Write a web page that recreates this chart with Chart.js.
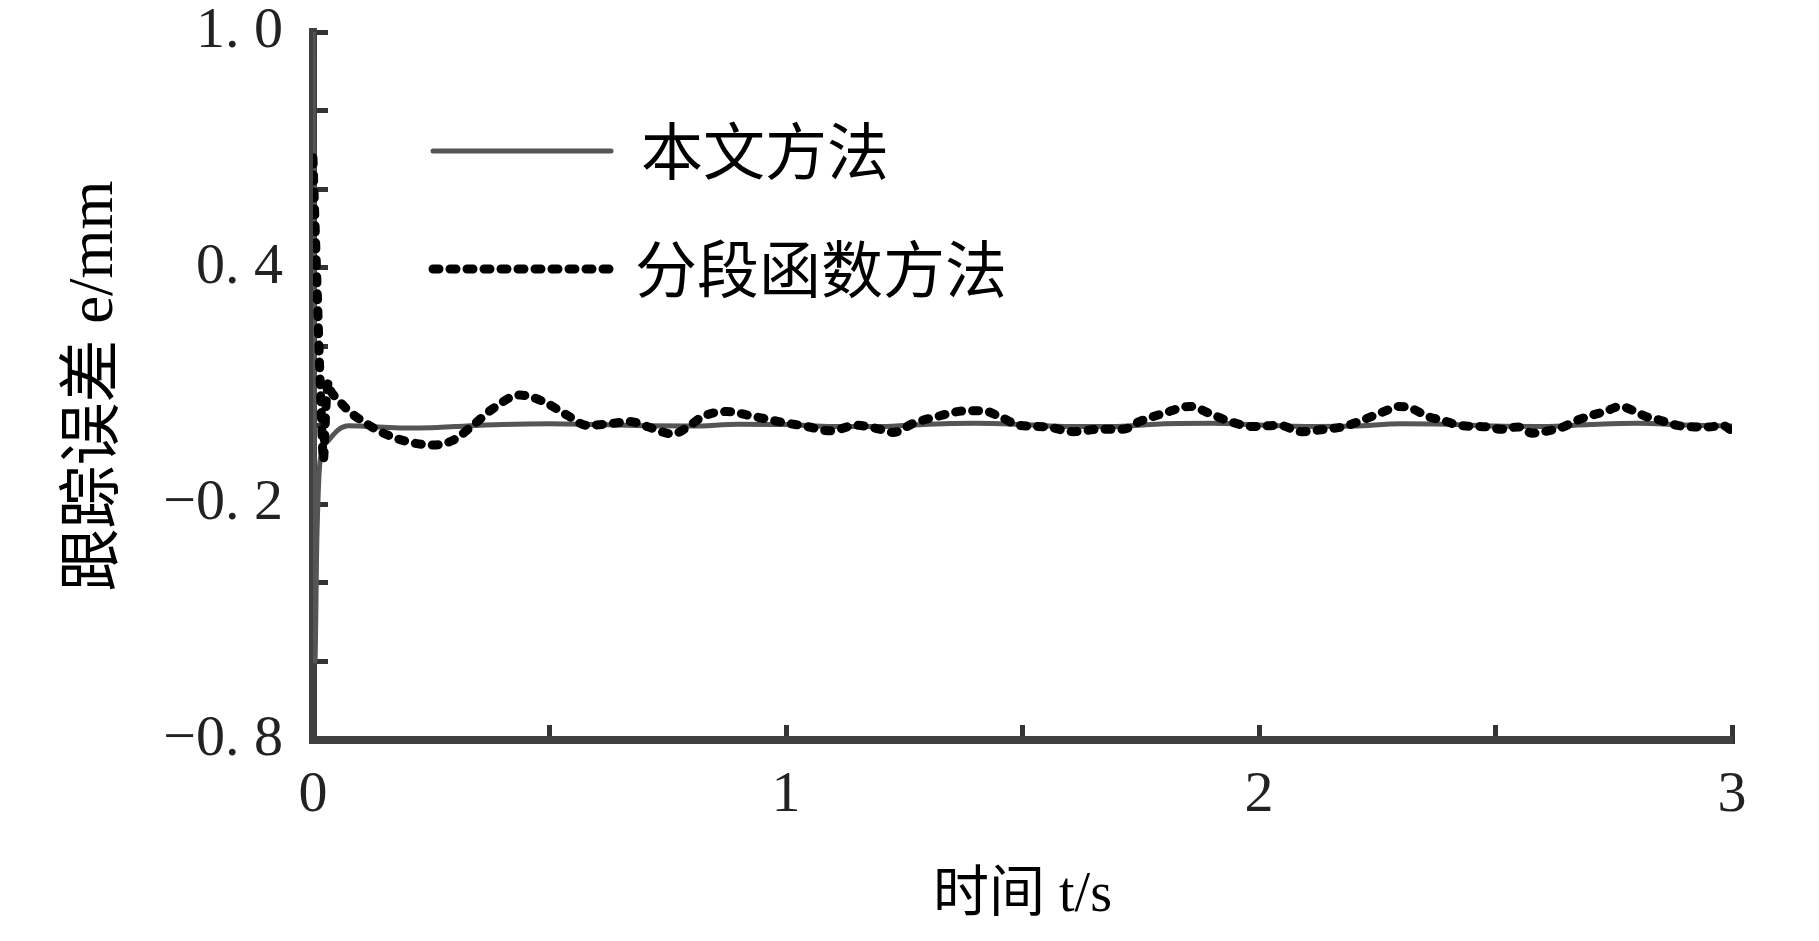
<!DOCTYPE html>
<html><head><meta charset="utf-8">
<script src="https://cdn.jsdelivr.net/npm/chart.js@4.4.1/dist/chart.umd.min.js"></script>
<style>html,body{margin:0;padding:0;background:#fff;}canvas{display:block;}</style>
</head><body>
<canvas id="c" width="1819" height="941"></canvas>
<script>
// ---- data ----
const seriesNames = ['本文方法', '分段函数方法'];

const proposedTime = [0, 0.004, 0.008, 0.013, 0.018, 0.024, 0.03, 0.04, 0.05, 0.06, 0.075, 0.1, 0.15, 0.2, 0.25, 0.3,
  0.4, 0.5, 0.6, 0.7, 0.8, 0.9, 1.0, 1.1, 1.2, 1.3, 1.4, 1.5, 1.6, 1.7, 1.8, 1.9, 2.0, 2.1, 2.2, 2.3, 2.4, 2.5, 2.6, 2.7, 2.8, 2.9, 3.0];
const proposedError = [1.0, -0.6, -0.3, -0.12, -0.07, -0.05, -0.042, -0.028, -0.015, -0.006, -0.001, -0.002, -0.005, -0.007, -0.006, -0.003,
  0.002, 0.004, 0.002, -0.001, -0.002, 0.003, 0.002, -0.003, -0.003, 0.003, 0.005, 0.002, -0.003, -0.003, 0.004, 0.005, 0.001, -0.003, -0.002, 0.004, 0.003, -0.002, -0.003, 0.002, 0.005, 0.001, -0.002];

const piecewiseTime = [0, 0.002, 0.006, 0.01, 0.014, 0.017, 0.02, 0.022, 0.025, 0.028, 0.033, 0.037, 0.045, 0.057, 0.07, 0.085,
  0.106, 0.142, 0.198, 0.254, 0.296, 0.338, 0.381, 0.437, 0.486, 0.537, 0.579, 0.634, 0.67, 0.706, 0.761, 0.797, 0.825, 0.875, 0.93, 0.987,
  1.044, 1.093, 1.149, 1.199, 1.227, 1.269, 1.318, 1.382, 1.417, 1.452, 1.494, 1.551, 1.607, 1.663, 1.713, 1.748, 1.797, 1.854, 1.896, 1.938, 1.987,
  2.044, 2.088, 2.139, 2.176, 2.212, 2.264, 2.296, 2.322, 2.358, 2.388, 2.424, 2.483, 2.512, 2.548, 2.578, 2.607, 2.643, 2.673, 2.702, 2.731, 2.764,
  2.79, 2.819, 2.848, 2.884, 2.921, 2.95, 2.98, 3.0];
const piecewiseError = [0.68, 0.6, 0.45, 0.3, 0.15, 0.05, -0.05, -0.09, -0.02, 0.06, 0.11, 0.09, 0.075, 0.06, 0.043, 0.027,
  0.01, -0.016, -0.041, -0.05, -0.038, 0.0, 0.043, 0.077, 0.061, 0.026, 0.0, 0.005, 0.01, -0.003, -0.022, 0.0, 0.023, 0.035, 0.023, 0.009,
  -0.003, -0.014, 0.0, -0.01, -0.018, 0.005, 0.022, 0.037, 0.037, 0.022, 0.0, -0.004, -0.016, -0.01, -0.01, 0.01, 0.03, 0.048, 0.03, 0.01, -0.003,
  0.0, -0.016, -0.01, -0.004, 0.01, 0.035, 0.048, 0.043, 0.022, 0.013, 0.0, -0.004, -0.01, -0.004, -0.02, -0.015, -0.004, 0.013, 0.025, 0.035, 0.048,
  0.038, 0.022, 0.013, 0.0, -0.004, -0.004, 0.0, -0.014];

const xTickValues = [0, 1, 2, 3];
const xTickLabels = ['0', '1', '2', '3'];
const yTickValues = [-0.8, -0.2, 0.4, 1.0];
const yTickLabels = ['−0. 8', '−0. 2', '0. 4', '1. 0'];
const xTitle = '时间 t/s';
const yTitle = '跟踪误差 e/mm';

// ---- chart ----
const toPoints = (ts, vs) => ts.map((t, i) => ({x: t, y: vs[i]}));
const labelFor = (vals, labels) => v => {
  const i = vals.findIndex(a => Math.abs(a - v) < 1e-6);
  return i >= 0 ? labels[i] : '';
};

const CJK = "'Noto Sans CJK SC'";
const legendPlugin = {
  id: 'innerLegend',
  afterDatasetsDraw(chart) {
    const {ctx, chartArea} = chart;
    const rows = [chartArea.top + 119, chartArea.top + 237];
    ctx.save();
    chart.data.datasets.forEach((ds, i) => {
      const y = rows[i];
      const x0 = chartArea.left + 120, x1 = x0 + 178;
      ctx.beginPath();
      ctx.strokeStyle = ds.borderColor;
      ctx.lineWidth = ds.borderWidth;
      ctx.lineCap = ds.borderCapStyle || 'round';
      ctx.setLineDash(ds.borderDash || []);
      ctx.moveTo(x0, y); ctx.lineTo(x1, y);
      ctx.stroke();
      ctx.setLineDash([]);
      ctx.fillStyle = '#000';
      ctx.font = "62px " + CJK;
      ctx.textAlign = 'left';
      ctx.textBaseline = 'middle';
      ctx.fillText(ds.label, x1 + (i === 0 ? 30 : 24), y);
    });
    ctx.restore();
  }
};

new Chart(document.getElementById('c'), {
  type: 'line',
  data: {
    datasets: [
      {
        label: seriesNames[0],
        data: toPoints(proposedTime, proposedError),
        borderColor: '#555555',
        borderWidth: 5,
        borderCapStyle: 'round',
        pointRadius: 0,
        cubicInterpolationMode: 'monotone',
        order: 1
      },
      {
        label: seriesNames[1],
        data: toPoints(piecewiseTime, piecewiseError),
        borderColor: '#000000',
        borderWidth: 9,
        borderDash: [6, 11],
        borderCapStyle: 'round',
        pointRadius: 0,
        cubicInterpolationMode: 'monotone',
        order: 0
      }
    ]
  },
  options: {
    responsive: false,
    animation: false,
    devicePixelRatio: 1,
    layout: {padding: {left: 0, right: 87, top: 32, bottom: 0}},
    plugins: {legend: {display: false}, tooltip: {enabled: false}},
    scales: {
      x: {
        type: 'linear',
        min: 0, max: 3,
        afterFit(s) { s.height = 201; s.paddingLeft = 0; s.paddingRight = 0; },
        border: {display: true, color: '#404040', width: 8},
        grid: {display: true, drawOnChartArea: false, drawTicks: true, tickLength: -15, tickColor: '#333', tickWidth: 5},
        ticks: {
          stepSize: 0.5, autoSkip: false, maxRotation: 0,
          padding: 42, color: '#222',
          font: {family: "'Liberation Serif'", size: 58, lineHeight: 1},
          callback: labelFor(xTickValues, xTickLabels)
        },
        title: {
          display: true, text: xTitle, color: '#000',
          font: {family: "'Liberation Serif', " + CJK, size: 56, lineHeight: 1},
          padding: {top: 0, bottom: 17}
        }
      },
      y: {
        type: 'linear',
        min: -0.8, max: 1.0,
        afterFit(s) { s.width = 313; s.paddingTop = 0; s.paddingBottom = 0; },
        border: {display: true, color: '#404040', width: 8},
        grid: {display: true, drawOnChartArea: false, drawTicks: true, tickLength: -15, tickColor: '#333', tickWidth: 5},
        ticks: {
          stepSize: 0.2, autoSkip: false,
          padding: 45, color: '#222',
          font: {family: "'Liberation Serif'", size: 58, lineHeight: 1},
          callback: labelFor(yTickValues, yTickLabels)
        },
        title: {
          display: true, text: yTitle, color: '#000',
          font: {family: "'Liberation Serif', " + CJK, size: 63, lineHeight: 1},
          padding: {top: 64, bottom: 0}
        }
      }
    }
  },
  plugins: [legendPlugin]
});
</script>
</body></html>
